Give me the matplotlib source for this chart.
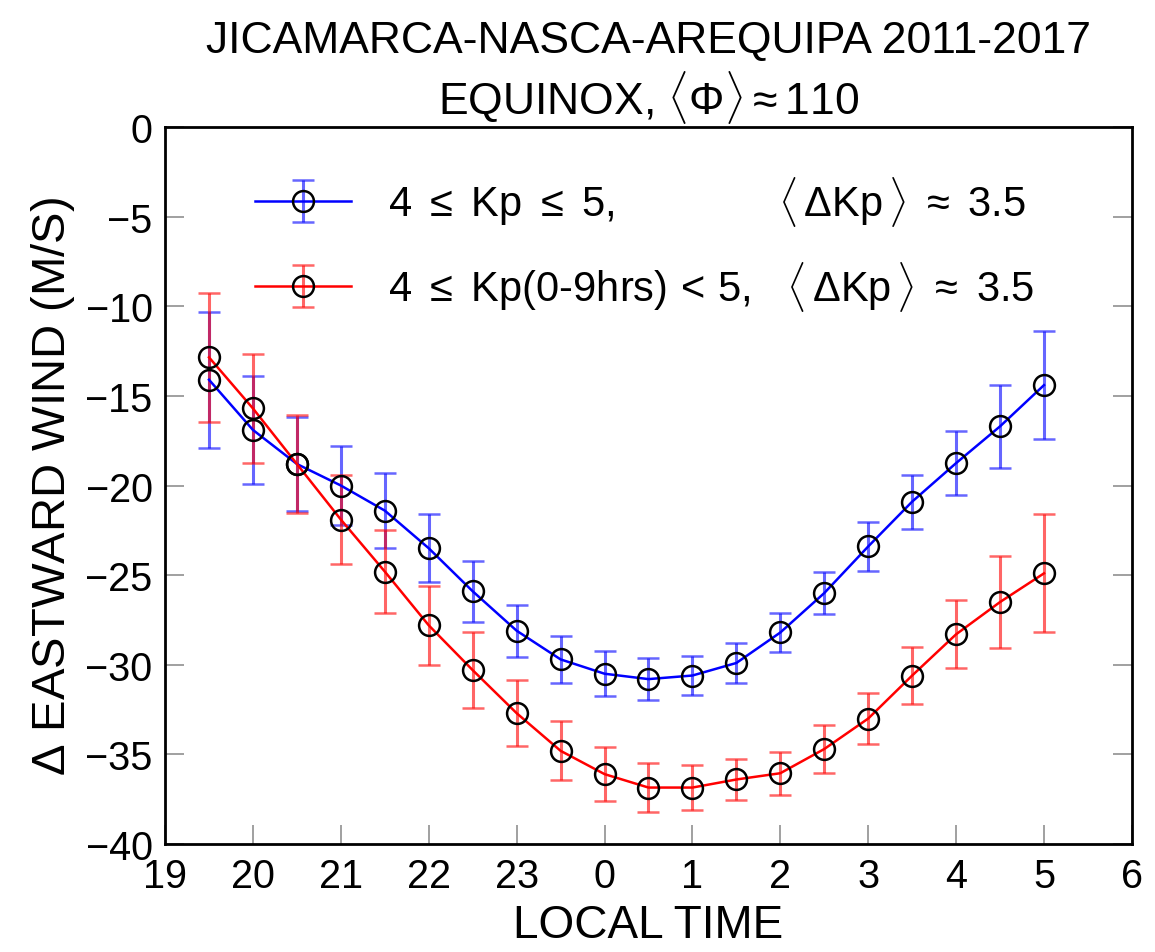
import matplotlib
matplotlib.use('Agg')
import matplotlib.pyplot as plt

plt.rcParams['font.family'] = ['Liberation Sans', 'DejaVu Sans']
plt.rcParams['mathtext.fontset'] = 'custom'
plt.rcParams['mathtext.rm'] = 'Liberation Sans'
plt.rcParams['mathtext.it'] = 'Liberation Sans'
plt.rcParams['mathtext.bf'] = 'Liberation Sans'

# local time, hours after 19 LT (24 = midnight)
hours = [19.5, 20, 20.5, 21, 21.5, 22, 22.5, 23, 23.5, 24,
         24.5, 25, 25.5, 26, 26.5, 27, 27.5, 28, 28.5, 29]

wind_kp45 = [-14.1, -16.9, -18.8, -20.0, -21.4, -23.5, -25.9, -28.1, -29.7, -30.5,
             -30.8, -30.6, -29.9, -28.2, -26.0, -23.4, -20.9, -18.75, -16.7, -14.4]
err_kp45 = [3.8, 3.0, 2.6, 2.2, 2.1, 1.9, 1.7, 1.45, 1.3, 1.25,
            1.15, 1.1, 1.1, 1.1, 1.15, 1.35, 1.5, 1.8, 2.3, 3.0]

wind_kp09 = [-12.85, -15.7, -18.8, -21.9, -24.8, -27.8, -30.3, -32.7, -34.8, -36.1,
             -36.85, -36.85, -36.4, -36.05, -34.7, -33.0, -30.6, -28.3, -26.5, -24.9]
err_kp09 = [3.6, 3.05, 2.75, 2.5, 2.3, 2.2, 2.1, 1.85, 1.65, 1.5,
            1.35, 1.25, 1.15, 1.2, 1.35, 1.4, 1.6, 1.9, 2.55, 3.3]

tick_pos = list(range(19, 31))
tick_labels = ['19', '20', '21', '22', '23', '0', '1', '2', '3', '4', '5', '6']

fig = plt.figure(figsize=(11.55, 9.53), dpi=100)
ax = fig.add_axes([0.1429, 0.1133, 0.8371, 0.7524])

def draw(x, y, e, color, label):
    cont = ax.errorbar(x, y, yerr=e, color=color, ecolor=color, elinewidth=2.2,
                       capsize=8, capthick=2.2, lw=1.8, marker='o', ms=15,
                       mfc='none', mec='black', mew=1.8, label=label)
    for art in cont[1] + cont[2]:
        art.set_alpha(0.6)

dkp = r'$\langle\,\Delta$Kp$\,\rangle\ \approx\ $3.5'
draw(hours, wind_kp45, err_kp45, 'blue',
     r'4 $\leq$ Kp $\leq$ 5,' + ' ' * 14 + dkp)
draw(hours, wind_kp09, err_kp09, 'red',
     r'4 $\leq$ Kp(0-9hrs)$\,<\,$5,   ' + dkp)

ax.set_xlim(19, 30)
ax.set_ylim(-40, 0)
ax.set_xticks(tick_pos)
ax.set_xticklabels(tick_labels)
ax.set_yticks(range(-40, 1, 5))
ax.tick_params(direction='in', length=14, width=1.3, color='#999999',
               labelsize=28.5, pad=9, top=False, right=True)
for s in ax.spines.values():
    s.set_linewidth(2)

ax.set_xlabel('LOCAL TIME', fontsize=33, labelpad=6)
ax.set_ylabel(r'$\Delta$ EASTWARD WIND (M/S)', fontsize=34, labelpad=6)
ax.set_title('JICAMARCA-NASCA-AREQUIPA 2011-2017\n'
             r'EQUINOX, $\langle\Phi\rangle\approx$110',
             fontsize=32, pad=10, linespacing=1.15)

ax.legend(loc='upper left', bbox_to_anchor=(0.0755, 0.958), borderaxespad=0,
          frameon=False, fontsize=30, labelspacing=0.75, handlelength=2.3,
          handletextpad=0.9)

fig.savefig('out.png', dpi=100)
